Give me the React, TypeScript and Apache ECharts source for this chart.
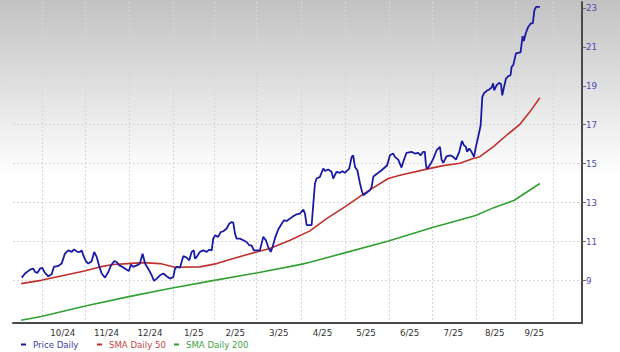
import React, { useEffect, useRef } from "react";
import * as echarts from "echarts";

// ---- axis structure (trading-day slots) ----
const monthLabels = ["10/24", "11/24", "12/24", "1/25", "2/25", "3/25", "4/25", "5/25", "6/25", "7/25", "8/25", "9/25"];
const monthSlotCounts = [21, 21, 21, 20, 20, 22, 21, 21, 21, 21, 19, 18];
const leadSlots = 14;
const tailSlots = 14;
const yTickValues = [9, 11, 13, 15, 17, 19, 21, 23];
const yGridValues = [9, 11, 13, 15, 17, 19, 21];
const yMin = 6.82;
const yMax = 23.3;

// ---- series data: [slot, value] ----
const priceSlots = [
  4.2, 5.8, 8.2, 9.8, 10.6, 11.7, 13.0, 14.1, 15.4, 17.0, 18.6, 19.7, 21.8, 23.4, 25.0, 26.6, 28.3, 29.4, 31.0, 32.3,
  33.1, 33.8, 35.1, 36.3, 37.9, 39.1, 40.3, 41.4, 42.7, 44.3, 45.9, 47.2, 48.8, 49.9, 51.2, 52.8, 54.4, 55.8, 56.8, 57.9,
  59.6, 61.1, 62.4, 63.6, 65.1, 66.8, 67.9, 69.2, 70.8, 72.4, 74.0, 75.6, 77.2, 78.0, 78.8, 80.4, 81.2, 82.0, 83.6, 84.9,
  86.0, 87.1, 87.6, 88.4, 90.0, 91.6, 93.3, 94.5, 95.7, 96.4, 97.3, 98.8, 100.0, 101.3, 102.9, 104.1, 105.3, 106.1, 106.9, 107.7,
  109.3, 110.9, 112.5, 113.8, 114.9, 116.0, 118.9, 120.5, 121.8, 122.9, 124.1, 125.0, 126.1, 127.7, 129.4, 130.5, 131.8, 133.4, 134.9, 136.6,
  138.2, 139.8, 140.6, 141.4, 143.8, 145.4, 146.2, 147.8, 149.4, 150.2, 151.8, 153.4, 154.2, 155.0, 155.8, 157.4, 158.7, 159.8, 161.9, 163.1,
  163.8, 164.7, 165.8, 167.1, 167.9, 168.7, 170.3, 171.9, 172.7, 173.5, 174.3, 175.9, 177.5, 180.2, 181.5, 183.1, 183.9, 185.5, 186.3, 187.1,
  187.9, 189.5, 191.9, 193.5, 195.1, 196.3, 197.5, 198.3, 198.8, 199.2, 199.8, 201.6, 202.4, 204.0, 205.6, 206.4, 207.2, 208.8, 210.4, 212.0,
  213.3, 214.9, 216.2, 217.1, 218.1, 218.7, 219.7, 220.8, 222.0, 222.9, 224.0, 225.2, 226.0, 226.9, 228.1, 229.3, 230.5, 231.2, 231.7, 232.9,
  234.1, 235.0, 235.6, 236.4, 237.4, 238.5, 239.6, 240.1, 240.9, 242.2, 243.3, 244.4, 245.4, 246.0, 247.0, 248.1, 249.3, 250.3, 251.1, 251.9,
  253.7,
];
const priceValues = [
  9.15, 9.36, 9.56, 9.61, 9.44, 9.39, 9.61, 9.65, 9.39, 9.22, 9.32, 9.70, 9.75, 9.87, 10.38, 10.55, 10.47, 10.60, 10.47, 10.47,
  10.55, 10.30, 9.99, 9.87, 9.99, 10.47, 10.21, 9.78, 9.36, 9.15, 9.44, 9.78, 10.00, 9.95, 9.78, 9.70, 9.58, 9.49, 9.82, 9.70,
  9.78, 9.87, 10.38, 9.87, 9.61, 9.27, 8.98, 9.10, 9.27, 9.36, 9.22, 9.10, 9.18, 9.61, 9.70, 9.66, 9.95, 10.25, 10.18, 10.04,
  10.47, 10.55, 10.13, 10.21, 10.47, 10.55, 10.47, 10.59, 10.55, 11.15, 11.32, 11.24, 11.49, 11.53, 11.67, 11.92, 12.01, 11.96, 11.41, 11.15,
  11.15, 11.07, 10.98, 10.81, 10.81, 10.55, 10.55, 11.24, 11.07, 10.72, 10.47, 10.72, 11.15, 11.62, 11.92, 12.09, 12.06, 12.18, 12.30, 12.40,
  12.44, 12.64, 12.44, 11.84, 11.84, 13.98, 14.24, 14.32, 14.75, 14.63, 14.70, 14.58, 14.24, 14.41, 14.58, 14.53, 14.61, 14.53, 14.75, 15.35,
  15.43, 14.83, 14.66, 13.98, 13.64, 13.38, 13.50, 13.64, 13.81, 14.32, 14.41, 14.53, 14.66, 14.92, 15.43, 15.52, 15.35, 15.21, 15.00, 14.80,
  15.09, 15.56, 15.61, 15.52, 15.56, 15.43, 15.61, 15.61, 15.00, 14.75, 14.78, 15.09, 15.26, 15.69, 15.86, 15.21, 15.04, 15.38, 15.43, 15.35,
  15.21, 15.61, 16.17, 15.95, 15.86, 15.61, 15.78, 15.61, 15.35, 15.86, 16.37, 16.97, 18.43, 18.63, 18.74, 18.81, 18.91, 19.12, 18.77, 19.03,
  19.15, 19.08, 18.51, 18.91, 19.37, 19.49, 19.54, 19.97, 20.06, 20.66, 20.69, 20.71, 21.55, 21.30, 21.72, 22.02, 22.20, 22.20, 22.88, 23.05,
  23.05,
];

const sma50Slots = [3.9, 13.6, 22.6, 34.3, 41.9, 48.1, 55.2, 62.6, 70.8, 78.0, 90.0, 98.1, 106.1, 117.3, 123.7, 133.4, 143.0, 151.0, 159.8, 170.3, 180.7, 186.3, 199.2, 207.2, 215.2, 221.6, 224.8, 231.2, 237.7, 244.1, 248.9, 253.7];
const sma50Values = [8.84, 9.01, 9.22, 9.49, 9.70, 9.82, 9.87, 9.92, 9.87, 9.68, 9.70, 9.87, 10.13, 10.47, 10.64, 11.07, 11.55, 12.18, 12.78, 13.55, 14.24, 14.41, 14.72, 14.90, 15.02, 15.26, 15.36, 15.86, 16.46, 17.02, 17.66, 18.38];

const sma200Slots = [3.9, 13.6, 34.3, 55.2, 76.7, 96.9, 117.3, 138.7, 143.0, 159.7, 180.4, 201.2, 222.8, 231.2, 241.4, 253.7];
const sma200Values = [6.96, 7.15, 7.68, 8.16, 8.62, 9.01, 9.39, 9.83, 9.94, 10.42, 11.02, 11.70, 12.34, 12.73, 13.12, 13.98];

const pair = (xs: number[], ys: number[]) => xs.map((x, i) => [x, ys[i]]);

export default function App() {
  const ref = useRef<HTMLDivElement>(null);

  useEffect(() => {
    if (!ref.current) return;
    const chart = echarts.init(ref.current, undefined, { renderer: "svg" });

    const totalSlots = leadSlots + monthSlotCounts.reduce((a, b) => a + b, 0) + tailSlots;
    const categories: string[] = [];
    for (let i = 0; i <= totalSlots; i++) categories.push("s" + i);
    const monthStarts = new Set<number>();
    const labelAt = new Map<number, string>();
    let start = leadSlots;
    monthSlotCounts.forEach((c, m) => {
      monthStarts.add(start);
      labelAt.set(start + Math.floor(c / 2), monthLabels[m]);
      start += c;
    });
    monthStarts.add(start);

    const font = "DejaVu Sans";
    const gridLine = { color: "#d6d6d6", type: [2, 2] as number[], width: 1 };
    const mkLegend = (name: string, left: number, color: string) => ({
      data: [name],
      left,
      top: 340,
      padding: 0,
      icon: "rect",
      itemWidth: 5,
      itemHeight: 2,
      itemGap: 0,
      selectedMode: false,
      textStyle: { color, fontSize: 8.6, fontFamily: font, padding: [0, 0, 0, 2] },
    });

    chart.setOption({
      animation: false,
      backgroundColor: "transparent",
      grid: { left: 13, right: 38, top: 2, bottom: 29, containLabel: false, outerBoundsMode: "none" },
      legend: [
        mkLegend("Price Daily", 21, "#3b3bab"),
        mkLegend("SMA Daily 50", 97, "#c94444"),
        mkLegend("SMA Daily 200", 174, "#3f9f3f"),
      ],
      xAxis: [
        { type: "value", min: 0, max: totalSlots, show: false, axisLine: { show: false, onZero: false } },
        {
          type: "category",
          data: categories,
          boundaryGap: false,
          position: "bottom",
          axisLine: { show: true, onZero: false, lineStyle: { color: "#4a4a4a", width: 2 } },
          axisTick: { show: false },
          axisLabel: {
            interval: (idx: number) => labelAt.has(idx),
            formatter: (_v: string, idx: number) => labelAt.get(idx) || "",
            color: "#333",
            fontSize: 8.7,
            fontFamily: font,
            margin: 5,
          },
          splitLine: {
            show: true,
            interval: (idx: number) => monthStarts.has(idx),
            lineStyle: gridLine,
          },
        },
      ],
      yAxis: [
        {
          type: "value",
          position: "right",
          min: yMin,
          max: yMax,
          axisLine: { show: true, onZero: false, lineStyle: { color: "#4a4a4a", width: 2 } },
          axisTick: { show: true, length: 4, customValues: yTickValues, lineStyle: { color: "#666" } },
          axisLabel: { customValues: yTickValues, color: "#4b4bab", fontSize: 8.7, fontFamily: font, margin: 4 },
          splitLine: { show: false },
        },
        {
          type: "value",
          position: "left",
          min: yMin,
          max: yMax,
          axisLine: { show: false, onZero: false },
          axisTick: { show: false, customValues: yGridValues },
          axisLabel: { show: false, customValues: yGridValues },
          splitLine: { show: true, lineStyle: gridLine },
        },
      ],
      series: [
        {
          name: "SMA Daily 200",
          type: "line",
          xAxisIndex: 0,
          yAxisIndex: 0,
          data: pair(sma200Slots, sma200Values),
          showSymbol: false,
          color: "#33a033",
          lineStyle: { width: 1.6, color: "#33a033" },
        },
        {
          name: "SMA Daily 50",
          type: "line",
          xAxisIndex: 0,
          yAxisIndex: 0,
          data: pair(sma50Slots, sma50Values),
          showSymbol: false,
          color: "#c0302c",
          lineStyle: { width: 1.6, color: "#c0302c" },
        },
        {
          name: "Price Daily",
          type: "line",
          xAxisIndex: 0,
          yAxisIndex: 0,
          data: pair(priceSlots, priceValues),
          showSymbol: false,
          color: "#1a1aa6",
          lineStyle: { width: 1.8, color: "#1a1aa6" },
        },
      ],
    });

    return () => chart.dispose();
  }, []);

  return (
    <div
      style={{
        position: "fixed",
        left: 0,
        top: 0,
        width: 620,
        height: 352,
        background: "linear-gradient(to bottom, #c2c2c2 0px, #ffffff 175px)",
      }}
    >
      <div ref={ref} style={{ width: 620, height: 352 }} />
    </div>
  );
}
